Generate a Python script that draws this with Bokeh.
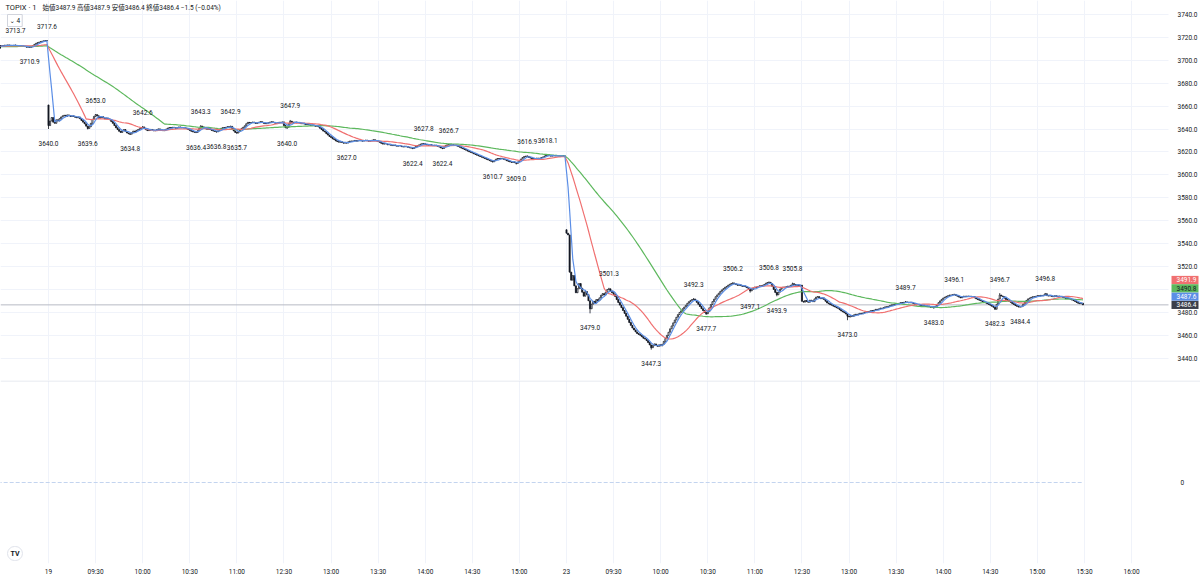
import numpy as np
from bokeh.plotting import figure
from bokeh.models import Range1d, FixedTicker, Span, Label, ColumnDataSource
from bokeh.layouts import column
from bokeh.embed import file_html
from bokeh.resources import INLINE
from bokeh.core.properties import value

# ---------------- data ----------------
symbol = "TOPIX · 1"

# day 18 (last 105 one-minute closes, the last 30 are visible)
day18_close = [
    3711.8, 3712.1, 3711.9, 3711.5, 3711.2, 3711.6, 3712.0, 3712.4, 3712.2, 3711.8,
    3711.4, 3711.0, 3710.7, 3711.1, 3711.5, 3711.3, 3710.9, 3711.2, 3711.7, 3712.0,
    3712.3, 3711.9, 3711.6, 3711.2, 3710.8, 3711.1, 3711.4, 3711.8, 3712.1, 3711.7,
    3711.3, 3711.0, 3711.4, 3711.9, 3712.2, 3712.5, 3712.1, 3711.8, 3711.5, 3711.9,
    3712.3, 3712.0, 3711.6, 3711.3, 3711.7, 3712.1, 3712.4, 3712.0, 3711.7, 3711.4,
    3711.8, 3712.2, 3712.5, 3712.2, 3711.9, 3711.6, 3712.0, 3712.3, 3712.6, 3712.3,
    3712.0, 3711.7, 3712.1, 3712.4, 3712.7, 3712.4, 3712.1, 3711.8, 3712.2, 3712.5,
    3712.8, 3712.5, 3712.2, 3712.0, 3712.4,
    3712.6, 3712.9, 3713.2, 3713.0, 3713.4, 3713.1, 3712.8, 3712.9, 3713.2, 3713.0,
    3712.7, 3712.5, 3712.8, 3712.6, 3712.3, 3712.0, 3711.5, 3711.4, 3711.2, 3711.9,
    3712.8, 3713.9, 3714.8, 3715.4, 3715.9, 3716.3, 3716.7, 3717.0, 3717.2, 3717.1,
]

# day 19 : 09:00-11:29 and 12:30-15:29 (330 one-minute closes)
day19_close = [
    3643.0, 3647.0, 3650.0, 3646.0, 3645.0, 3648.0, 3647.0, 3649.0, 3650.5, 3651.5,
    3652.0, 3651.0, 3652.3, 3651.8, 3650.9, 3651.5, 3651.0, 3650.2, 3649.8, 3650.5,
    3649.0, 3647.5, 3646.0, 3644.5, 3642.5, 3640.5, 3642.0, 3645.0, 3648.5, 3651.0,
    3652.5, 3651.5, 3649.5, 3650.0, 3650.6, 3649.6, 3648.8, 3649.5, 3648.7, 3648.0,
    3646.5, 3645.0, 3643.0, 3641.0, 3639.5, 3638.0, 3637.0, 3638.5, 3639.5, 3638.0,
    3636.5, 3635.8, 3635.5, 3636.8, 3638.2, 3637.5, 3638.8, 3639.5, 3640.2, 3641.2,
    3641.8, 3640.5, 3639.4, 3638.6, 3638.9, 3639.6, 3639.2, 3638.4, 3638.8, 3639.5,
    3640.1, 3639.6, 3638.9, 3638.5, 3639.2, 3640.0, 3640.8, 3641.3, 3640.9, 3641.5,
    3641.2, 3640.6, 3641.0, 3641.8, 3641.4, 3640.9, 3641.3, 3640.7, 3640.2, 3639.6,
    3638.8, 3638.0, 3637.4, 3637.2, 3637.0, 3638.5, 3640.5, 3642.5, 3641.8, 3641.0,
    3640.2, 3639.8, 3640.4, 3639.6, 3638.7, 3638.2, 3637.8, 3637.5, 3638.4, 3639.5,
    3640.6, 3641.2, 3640.8, 3641.5, 3642.0, 3641.6, 3642.3, 3640.5, 3638.3, 3637.0,
    3636.5, 3637.8, 3639.3, 3640.6, 3641.5, 3642.8, 3644.6, 3645.8, 3645.2, 3645.6,
    3646.1, 3645.4, 3644.9, 3645.3, 3645.9, 3646.4, 3645.8, 3645.1, 3644.6, 3645.0,
    3645.5, 3646.0, 3646.3, 3645.7, 3645.2, 3644.8, 3645.4, 3645.9, 3645.6, 3646.2,
    3643.0, 3641.0, 3641.5, 3644.5, 3646.8, 3646.0, 3645.6, 3646.1, 3645.4, 3645.8,
    3645.2, 3644.6, 3645.0, 3644.3, 3643.8, 3644.2, 3643.5, 3643.0, 3643.6, 3642.9,
    3642.4, 3642.8, 3641.8, 3640.6, 3639.5, 3638.2, 3637.4, 3636.0, 3634.7, 3633.5,
    3632.6, 3631.4, 3630.8, 3629.6, 3629.0, 3628.5, 3628.9, 3628.2, 3627.6, 3628.3,
    3627.8, 3628.8, 3629.5, 3629.2, 3629.6, 3630.0, 3629.4, 3629.8, 3630.2, 3629.7,
    3629.4, 3629.9, 3630.3, 3629.8, 3629.3, 3629.6, 3630.1, 3630.6, 3630.0, 3629.5,
    3629.0, 3628.4, 3627.5, 3626.8, 3627.4, 3626.9, 3626.2, 3626.6, 3625.9, 3625.5,
    3626.0, 3625.4, 3625.0, 3625.6, 3625.2, 3624.6, 3624.3, 3624.9, 3624.5, 3624.0,
    3623.6, 3623.3, 3623.0, 3623.9, 3624.8, 3625.5, 3626.1, 3626.8, 3627.2, 3627.1,
    3626.5, 3626.0, 3625.8, 3626.3, 3625.7, 3625.4, 3625.9, 3625.3, 3624.8, 3624.2,
    3623.4, 3623.0, 3624.5, 3625.6, 3626.2, 3626.1, 3625.8, 3626.2, 3625.5, 3625.9,
    3625.3, 3624.8, 3624.1, 3623.3, 3622.8, 3622.1, 3621.5, 3620.7, 3620.1, 3619.6,
    3619.0, 3618.3, 3617.8, 3617.1, 3616.5, 3616.0, 3615.4, 3614.8, 3614.2, 3613.6,
    3613.0, 3612.4, 3611.8, 3611.4, 3612.5, 3613.6, 3614.2, 3613.8, 3614.4, 3614.0,
    3613.6, 3613.0, 3612.3, 3611.8, 3611.2, 3610.9, 3611.3, 3610.6, 3610.0, 3611.2,
    3612.2, 3613.8, 3615.1, 3616.0, 3616.3, 3616.1, 3615.2, 3614.6, 3614.1, 3613.7,
    3614.2, 3614.6, 3614.0, 3614.5, 3615.1, 3615.6, 3616.4, 3617.2, 3617.4, 3616.8,
    3616.3, 3616.8, 3616.5, 3616.9, 3616.4, 3616.7, 3616.2, 3616.6, 3616.3, 3616.5,
]

# day 23 : 09:00-11:29 and 12:30-15:29 (330 one-minute closes)
day23_close = [
    3549.0, 3547.5, 3515.0, 3508.0, 3512.0, 3503.0, 3497.0, 3500.5, 3505.0, 3501.0,
    3497.5, 3494.0, 3498.0, 3495.5, 3490.0, 3483.0, 3487.0, 3489.5, 3488.0, 3491.0,
    3490.0, 3492.5, 3494.8, 3496.2, 3495.0, 3497.6, 3499.8, 3500.4, 3498.5, 3497.0,
    3495.5, 3493.8, 3491.0, 3488.5, 3486.2, 3484.0, 3481.5, 3479.0, 3476.5, 3473.8,
    3471.0, 3468.5, 3466.2, 3464.5, 3462.8, 3461.4, 3460.5, 3459.8, 3458.6, 3457.3,
    3456.5, 3455.2, 3453.5, 3451.4, 3449.0, 3450.8, 3452.3, 3451.1, 3450.2, 3451.5,
    3450.6, 3452.0, 3454.5, 3457.0, 3459.8, 3462.5, 3465.5, 3468.0, 3470.7, 3473.2,
    3475.6, 3477.9, 3479.8, 3481.2, 3483.0, 3484.5, 3486.0, 3487.8, 3489.2, 3490.3,
    3491.1, 3491.5, 3490.2, 3488.6, 3486.9, 3485.0, 3483.1, 3481.4, 3479.8, 3478.6,
    3480.5, 3483.8, 3486.7, 3489.2, 3491.4, 3493.5, 3495.1, 3496.6, 3498.2, 3499.5,
    3500.6, 3501.8, 3502.5, 3503.6, 3504.4, 3505.1, 3505.5, 3504.8, 3504.1, 3503.5,
    3503.9, 3503.2, 3502.6, 3502.9, 3502.1, 3501.4, 3500.2, 3498.6, 3499.8, 3501.2,
    3502.0, 3501.6, 3502.4, 3503.1, 3502.7, 3503.5, 3504.2, 3505.3, 3505.9, 3506.1,
    3504.9, 3502.6, 3499.9, 3497.3, 3495.2, 3497.5, 3500.1, 3501.3, 3502.0, 3501.5,
    3502.3, 3502.8, 3502.4, 3503.6, 3504.9, 3504.1, 3503.5, 3503.9, 3503.2, 3503.6,
    3489.5, 3488.8, 3490.2, 3489.4, 3488.7, 3490.5, 3490.0, 3489.2, 3491.6, 3493.2,
    3493.6, 3492.4, 3491.8, 3492.5, 3491.2, 3489.6, 3488.1, 3487.4, 3486.6, 3486.1,
    3485.3, 3484.6, 3483.9, 3483.4, 3482.2, 3481.1, 3480.3, 3479.6, 3478.4, 3476.5,
    3475.8, 3477.1, 3476.4, 3477.6, 3478.2, 3477.7, 3478.5, 3479.1, 3478.6, 3479.4,
    3479.9, 3480.5, 3480.1, 3480.8, 3481.4, 3481.0, 3481.8, 3482.5, 3482.1, 3482.9,
    3483.6, 3483.2, 3484.0, 3484.7, 3484.3, 3485.1, 3485.8, 3486.4, 3486.1, 3486.9,
    3487.5, 3487.2, 3487.9, 3488.4, 3488.1, 3488.7, 3489.0, 3488.6, 3488.2, 3488.7,
    3488.1, 3487.5, 3487.0, 3486.4, 3486.8, 3486.2, 3485.7, 3486.1, 3485.5, 3485.0,
    3485.4, 3484.8, 3484.3, 3484.7, 3484.1, 3485.2, 3486.8, 3488.3, 3489.9, 3491.2,
    3492.4, 3493.1, 3493.8, 3494.4, 3495.0, 3494.9, 3495.3, 3495.5, 3494.6, 3494.0,
    3493.2, 3492.5, 3493.4, 3494.0, 3493.6, 3494.1, 3493.6, 3493.9, 3493.3, 3493.7,
    3492.5, 3491.7, 3491.0, 3490.5, 3489.9, 3489.2, 3488.7, 3488.1, 3487.4, 3486.8,
    3486.1, 3485.2, 3484.3, 3482.6, 3486.9, 3491.5, 3495.0, 3494.1, 3493.7, 3492.3,
    3491.1, 3490.2, 3489.4, 3488.6, 3487.5, 3486.7, 3485.8, 3485.1, 3484.5, 3484.6,
    3485.4, 3487.1, 3488.7, 3490.3, 3491.6, 3492.4, 3493.0, 3493.5, 3493.2, 3493.9,
    3494.4, 3494.1, 3494.7, 3494.3, 3495.0, 3496.1, 3494.5, 3494.1, 3494.6, 3493.9,
    3493.5, 3494.4, 3493.7, 3494.1, 3493.4, 3493.8, 3493.1, 3492.6, 3492.0, 3492.4,
    3492.1, 3491.4, 3490.6, 3490.1, 3489.4, 3488.5, 3487.8, 3487.4, 3487.9, 3486.4,
]

# opening prints after the overnight gaps (bar index, open)
gap_open_idx = [0, 330]
gap_open_val = [3661.0, 3552.0]

# high / low marks shown on the chart (bar index, price)
pivot_hi_idx = [-21, -1, 30, 60, 97, 116, 154, 239, 255, 305, 318,
                357, 411, 436, 459, 474, 546, 577, 606, 635]
pivot_hi_val = [3713.7, 3717.6, 3653.0, 3642.6, 3643.3, 3642.9, 3647.9, 3627.8, 3626.7, 3616.9, 3618.1,
                3501.3, 3492.3, 3506.2, 3506.8, 3505.8, 3489.7, 3496.1, 3496.7, 3496.8]
pivot_lo_idx = [-12, 0, 25, 52, 94, 107, 120, 152, 190, 232, 251, 283, 298,
                345, 384, 419, 447, 464, 509, 564, 603, 619]
pivot_lo_val = [3710.9, 3640.0, 3639.6, 3634.8, 3636.4, 3636.8, 3635.7, 3640.0, 3627.0, 3622.4, 3622.4, 3610.7, 3609.0,
                3479.0, 3447.3, 3477.7, 3497.1, 3493.9, 3473.0, 3483.0, 3482.3, 3484.4]

# time axis (bar index -> label)
tick_idx = [0, 30, 60, 90, 120, 150, 180, 210, 240, 270, 300,
            330, 360, 390, 420, 450, 480, 510, 540, 570, 600, 630, 660, 690]
tick_labels = ["19", "09:30", "10:00", "10:30", "11:00", "12:30", "13:00", "13:30", "14:00", "14:30", "15:00",
               "23", "09:30", "10:00", "10:30", "11:00", "12:30", "13:00", "13:30", "14:00", "14:30", "15:00",
               "15:30", "16:00"]
price_ticks = [3440, 3460, 3480, 3500, 3520, 3540, 3560, 3580, 3600, 3620, 3640, 3660, 3680, 3700, 3720, 3740]
lower_ticks = [0]

ma_periods = [5, 25, 75]

# ---------------- derived series ----------------
n18 = len(day18_close)
close = np.array(day18_close + day19_close + day23_close, dtype=float)
idx = np.arange(len(close)) - n18
open_ = np.empty_like(close)
open_[1:] = close[:-1]
open_[0] = close[0]
for gi, o in zip(gap_open_idx, gap_open_val):
    open_[gi + n18] = o
high = np.maximum(open_, close)
low = np.minimum(open_, close)
for gi, v in zip(pivot_hi_idx, pivot_hi_val):
    high[gi + n18] = max(high[gi + n18], v)
for gi, v in zip(pivot_lo_idx, pivot_lo_val):
    low[gi + n18] = min(low[gi + n18], v)
volume = np.zeros(len(close))  # index has no volume: the lower pane reads 0

# ---------------- style / geometry ----------------
FONT = "Roboto"
TXT = "#131722"
GRID = "#f0f3fa"
C_BLUE = "#5b8ee6"
C_RED = "#f07070"
C_GREEN = "#5db85d"
C_LAST = "#3a3e4a"
FS = "6.5px"

W = 1200
PX = 518 / 330          # pixels per one-minute bar
ORIGIN = 48             # pixel of the first bar of day 19


def at(px):
    """bar-index coordinate of a horizontal pixel position"""
    return (px - ORIGIN) / PX


X0, X1 = at(0), at(W)
SCALE_L = at(1168)      # where the price scale begins
Y0, Y1 = 3420.35, 3752.23
MAIN_H = 380
LOW_H = 198

p = figure(width=W, height=MAIN_H, x_range=Range1d(X0, X1), y_range=Range1d(Y0, Y1),
           output_backend="svg", toolbar_location=None, x_axis_location=None,
           y_axis_location=None, min_border=0)
p.outline_line_color = None
p.background_fill_color = "white"
p.border_fill_color = "white"
p.xgrid.ticker = FixedTicker(ticks=tick_idx)
p.ygrid.ticker = FixedTicker(ticks=price_ticks)
p.xgrid.grid_line_color = GRID
p.ygrid.grid_line_color = GRID

# last price line
p.add_layout(Span(location=close[-1], dimension="width", line_color="#b8bbc4", line_width=1,
                  level="underlay"))

# candles
up = close >= open_
for mask, fill in ((up, "white"), (~up, TXT)):
    src = ColumnDataSource(dict(x=idx[mask], h=high[mask], l=low[mask],
                                t=np.maximum(open_, close)[mask], b=np.minimum(open_, close)[mask]))
    p.segment(x0="x", y0="h", x1="x", y1="l", source=src, line_color=TXT, line_width=0.8)
    p.vbar(x="x", width=0.72, top="t", bottom="b", source=src, fill_color=fill,
           line_color=TXT, line_width=0.7)

# moving averages
ma_vals = {}
for n, col in sorted(zip(ma_periods, [C_BLUE, C_RED, C_GREEN]), reverse=True):
    sma = np.convolve(close, np.ones(n) / n, mode="valid")
    ma_vals[n] = sma[-1]
    p.line(idx[n - 1:], sma, line_color=col, line_width=1.2)

# high / low marks
p.text(x=pivot_hi_idx, y=pivot_hi_val, text=[f"{v:.1f}" for v in pivot_hi_val],
       text_font=value(FONT), text_font_size=FS, text_color=TXT,
       text_align="center", text_baseline="middle", y_offset=-14)
p.text(x=pivot_lo_idx, y=pivot_lo_val, text=[f"{v:.1f}" for v in pivot_lo_val],
       text_font=value(FONT), text_font_size=FS, text_color=TXT,
       text_align="center", text_baseline="middle", y_offset=14)

# price scale (panel on the right)
p.quad(left=[SCALE_L], right=[X1 + 5], bottom=[Y0 - 5], top=[Y1 + 5],
       fill_color="white", line_color=None)
p.text(x=[at(1177)] * len(price_ticks), y=price_ticks, text=[f"{t:.1f}" for t in price_ticks],
       text_font=value(FONT), text_font_size=FS, text_color=TXT,
       text_align="left", text_baseline="middle")

# price badges on the scale, stacked upwards from the last price
px_per_price = MAIN_H / (Y1 - Y0)
badge_h = 8.3 / px_per_price
c_l = close[-1]
badges = sorted([(c_l, C_LAST, "white"), (ma_vals[5], C_BLUE, "white"),
                 (ma_vals[75], C_GREEN, TXT), (ma_vals[25], C_RED, "white")], key=lambda b: b[0])
b_pos, b_val, b_bg, b_fg = [], [], [], []
prev = None
for v, bg, fg in badges:
    pos = v if prev is None else max(v, prev + badge_h)
    prev = pos
    b_pos.append(pos)
    b_val.append(v)
    b_bg.append(bg)
    b_fg.append(fg)
b_pos = np.array(b_pos)
p.quad(left=[at(1171)] * 4, right=[at(1198)] * 4, bottom=b_pos - badge_h / 2 + 0.05,
       top=b_pos + badge_h / 2 - 0.05, fill_color=b_bg, line_color=None)
p.text(x=[at(1176)] * 4, y=b_pos, text=[f"{v:.1f}" for v in b_val], text_color=b_fg,
       text_font=value(FONT), text_font_size=FS, text_align="left", text_baseline="middle")

# legend line
o_l, h_l, l_l = open_[-1], high[-1], low[-1]
chg = c_l - close[-2]
pct = chg / close[-2] * 100
legend = f"始値{o_l:.1f} 高値{h_l:.1f} 安値{l_l:.1f} 終値{c_l:.1f} {chg:+.1f} ({pct:+.2f}%)".replace("-", "−")
p.add_layout(Label(x=5, y=MAIN_H - 7, x_units="screen", y_units="screen", text=symbol,
                   text_font=FONT, text_font_size="7.5px", text_color=TXT, text_baseline="middle"))
p.add_layout(Label(x=42, y=MAIN_H - 7, x_units="screen", y_units="screen", text=legend,
                   text_font=f"{FONT}, 'Noto Sans CJK JP'", text_font_size=FS, text_color=TXT,
                   text_baseline="middle"))
p.add_layout(Label(x=7, y=MAIN_H - 20, x_units="screen", y_units="screen", text="⌄ 4",
                   text_font=f"{FONT}, 'DejaVu Sans'", text_font_size=FS, text_color=TXT,
                   text_baseline="middle", padding=2, border_line_color="#d1d4dc",
                   background_fill_color="white"))

# ---------------- lower pane ----------------
p2 = figure(width=W, height=LOW_H, x_range=p.x_range, y_range=Range1d(-81, 102),
            output_backend="svg", toolbar_location=None, y_axis_location=None,
            min_border_left=0, min_border_right=0, min_border_top=0, min_border_bottom=15)
p2.outline_line_color = None
p2.background_fill_color = "white"
p2.border_fill_color = "white"
p2.xgrid.ticker = FixedTicker(ticks=tick_idx)
p2.xgrid.grid_line_color = GRID
p2.ygrid.visible = False
xa = p2.xaxis[0]
xa.ticker = FixedTicker(ticks=tick_idx)
xa.major_label_overrides = {t: lab for t, lab in zip(tick_idx, tick_labels)}
xa.axis_line_color = None
xa.major_tick_line_color = None
xa.minor_tick_line_color = None
xa.major_tick_out = 0
xa.major_tick_in = 0
xa.major_label_standoff = 4
xa.major_label_text_font = FONT
xa.major_label_text_font_size = FS
xa.major_label_text_color = TXT

p2.add_layout(Span(location=101.5, dimension="width", line_color="#e0e3eb", line_width=1))
p2.line(idx, volume, line_color="#c3d4ef", line_width=1.2, line_dash="4 2")
p2.text(x=[at(1180)] * len(lower_ticks), y=lower_ticks, text=[f"{t}" for t in lower_ticks],
        text_font=value(FONT), text_font_size=FS, text_color=TXT,
        text_align="left", text_baseline="middle")
p2.add_layout(Label(x=7, y=10, x_units="screen", y_units="screen", text="TV",
                    text_font=FONT, text_font_size="7px", text_font_style="bold", text_color=TXT,
                    text_baseline="middle", padding=3, border_line_color="#e0e3eb",
                    background_fill_color="white", border_radius=7))

layout = column(p, p2)
open("out.html", "w").write(file_html(layout, INLINE))
